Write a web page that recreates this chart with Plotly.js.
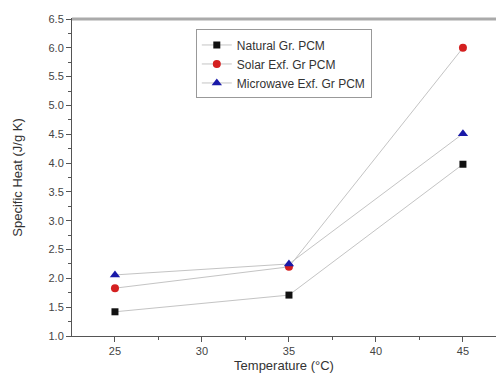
<!DOCTYPE html>
<html><head><meta charset="utf-8">
<script src="https://cdn.plot.ly/plotly-3.0.1.min.js"></script>
<style>html,body{margin:0;padding:0;overflow:hidden;background:#fff}</style>
</head><body><div id="chart" style="width:496px;height:376px"></div>
<script>
var temperature = [25, 35, 45];
var naturalGr = [1.42, 1.71, 3.98];
var solarExf = [1.83, 2.20, 6.00];
var microwaveExf = [2.06, 2.25, 4.51];
var seriesNames = ["Natural Gr. PCM", "Solar Exf. Gr PCM", "Microwave Exf. Gr PCM"];

function tr(y, name, color, symbol, size) {
  return {x: temperature, y: y, name: name, type: 'scatter', mode: 'lines+markers',
    line: {color: '#c4c4c4', width: 1},
    marker: {color: color, symbol: symbol, size: size}};
}
var data = [
  tr(naturalGr, seriesNames[0], '#111111', 'square', 7),
  tr(solarExf, seriesNames[1], '#d42020', 'circle', 8),
  tr(microwaveExf, seriesNames[2], '#1a1aa8', 'triangle-up', 9)
];
var font = {family: 'Liberation Sans, Arial, sans-serif', color: '#444', size: 10};
var layout = {
  width: 496, height: 376,
  margin: {l: 72, r: 0, t: 19, b: 40},
  paper_bgcolor: '#fff', plot_bgcolor: '#fff',
  font: font,
  showlegend: true,
  legend: {x: 0.292, y: 0.967, xanchor: 'left', yanchor: 'top',
    bordercolor: '#999', borderwidth: 1, bgcolor: 'rgba(255,255,255,0)',
    font: {family: 'Liberation Sans, Arial, sans-serif', size: 12, color: '#333'},
    tracegroupgap: 0, itemwidth: 30},
  xaxis: {range: [22.53, 46.9], tick0: 25, dtick: 5, showgrid: false, zeroline: false,
    showline: true, linecolor: '#555', linewidth: 1, mirror: true,
    ticks: 'outside', ticklen: 5, tickcolor: '#555',
    minor: {dtick: 2.5, ticks: 'outside', ticklen: 3, tickcolor: '#555', showgrid: false},
    tickfont: {size: 11, color: '#444'},
    title: {text: 'Temperature (°C)', font: {size: 13, color: '#333'}, standoff: 4}},
  yaxis: {range: [1.0, 6.5], tick0: 1, dtick: 0.5, tickformat: '.1f', showgrid: false, zeroline: false,
    showline: true, linecolor: '#555', linewidth: 1, mirror: false,
    ticks: 'outside', ticklen: 5, tickcolor: '#555',
    minor: {dtick: 0.25, ticks: 'outside', ticklen: 3, tickcolor: '#555', showgrid: false},
    tickfont: {size: 11, color: '#444'},
    title: {text: 'Specific Heat (J/g K)', font: {size: 13, color: '#333'}, standoff: 22}},
  shapes: [
    {type: 'line', xref: 'paper', yref: 'paper', x0: 0, x1: 1, y0: 1, y1: 1,
     line: {color: '#aaa', width: 3}}
  ]
};
Plotly.newPlot('chart', data, layout, {displayModeBar: false, staticPlot: true});
</script></body></html>
